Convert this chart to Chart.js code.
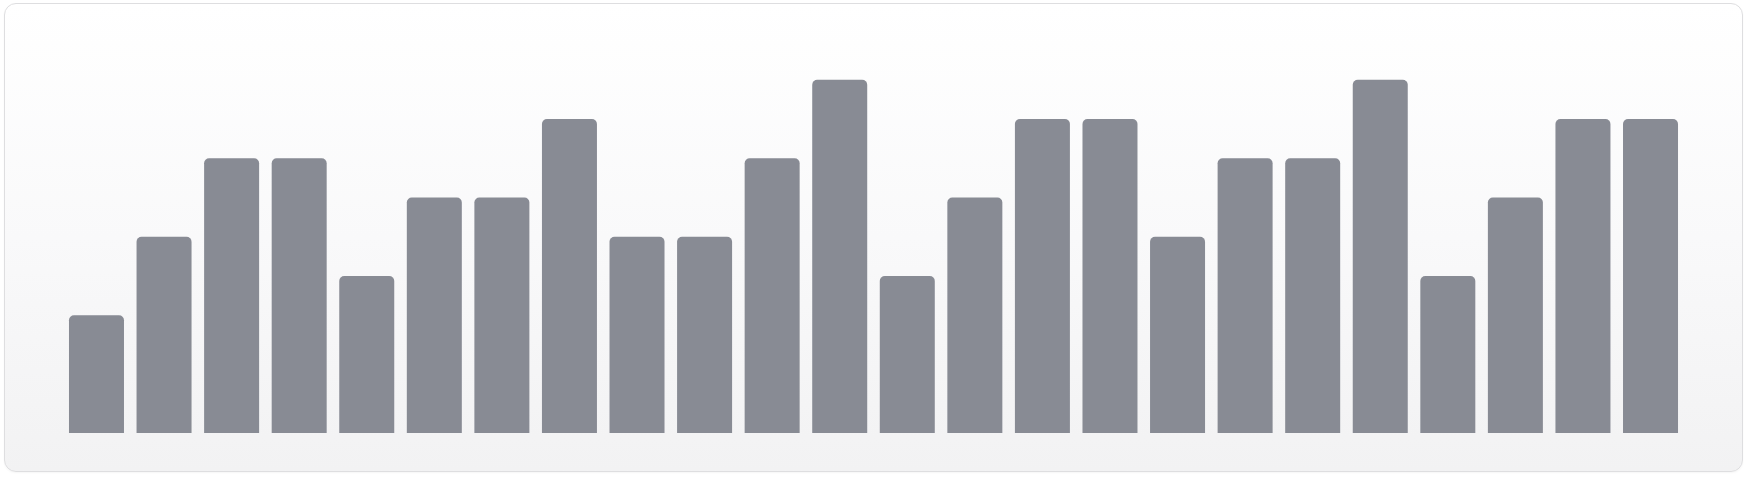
<!DOCTYPE html>
<html>
<head>
<meta charset="utf-8">
<script src="https://cdn.jsdelivr.net/npm/chart.js@4"></script>
<style>
    html, body { margin: 0; padding: 0; background: #ffffff; }
    body { width: 1748px; height: 478px; position: relative; overflow: hidden; }
    .card {
        position: absolute; left: 4px; top: 3px;
        width: 1739px; height: 469px; box-sizing: border-box;
        border: 1px solid #dedee0; border-radius: 12px;
        background: linear-gradient(to bottom, #ffffff 0%, #f9f9fa 50%, #f2f2f3 100%);
        box-shadow: 0 1px 2px rgba(0,0,0,0.04);
    }
    #wrap { position: absolute; left: 0; top: 0; width: 1748px; height: 478px; }
</style>
</head>
<body>
<div class="card"></div>
<div id="wrap"><canvas id="bars"></canvas></div>
<script>
// one value per bar, left to right
const labels = ['1','2','3','4','5','6','7','8','9','10','11','12',
                '13','14','15','16','17','18','19','20','21','22','23','24']
const values = [3,5,7,7,4,6,6,8,5,5,7,9,4,6,8,8,5,7,7,9,4,6,8,8]
const yMax = 10

const data = {
    labels: labels,
    datasets: [{
        data: values,
        backgroundColor: '#888b94',
        borderWidth: 0,
        borderRadius: {topLeft: 5, topRight: 5, bottomLeft: 0, bottomRight: 0},
        borderSkipped: false,
        barPercentage: 0.814,
        categoryPercentage: 1
    }]
}

const config = {
    type: 'bar',
    data: data,
    options: {
        responsive: true,
        maintainAspectRatio: false,
        animation: false,
        layout: {
            padding: {left: 62.7, right: 63.7, top: 40.5, bottom: 45}
        },
        plugins: {
            legend: { display: false },
            tooltip: { enabled: false }
        },
        scales: {
            x: { display: false, grid: { display: false } },
            y: { display: false, min: 0, max: yMax, grid: { display: false } }
        }
    }
}

new Chart(document.getElementById('bars'), config)
</script>
</body>
</html>
